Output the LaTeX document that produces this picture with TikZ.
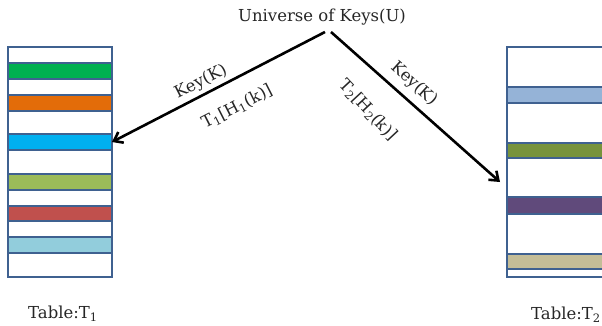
\documentclass[tikz,border=0pt]{standalone}
\usepackage{fontspec}
\setmainfont{DejaVu Serif}
\usetikzlibrary{arrows.meta}

\definecolor{frame}{HTML}{3F6190}
\definecolor{cgreen}{HTML}{00B050}
\definecolor{corange}{HTML}{E36C09}
\definecolor{cblue}{HTML}{00B0F0}
\definecolor{clime}{HTML}{9BBB59}
\definecolor{cred}{HTML}{C0504D}
\definecolor{caqua}{HTML}{92CDDC}
\definecolor{csteel}{HTML}{95B3D7}
\definecolor{colive}{HTML}{77933C}
\definecolor{cplum}{HTML}{604A7B}
\definecolor{ctan}{HTML}{C4BD97}

\tikzset{
  slot/.style={draw=frame, fill=white, line width=2.6pt, inner sep=0pt, outer sep=0pt,
    anchor=north west, minimum width=104pt},
  wslot/.style={slot, minimum width=112pt},
  link/.style={line width=2.6pt, -{Straight Barb[length=8pt,width=12pt,line width=2.6pt]}},
  txt/.style={font=\fontsize{16.5}{19}\selectfont, text=black!85, inner sep=0pt}
}

\begin{document}
\begin{tikzpicture}[x=1pt,y=-1pt]
\useasboundingbox (0,0) rectangle (602,326);
\clip (0,0) rectangle (602,326);

% table T1
\node[slot, minimum height=16pt] (a1) at (8,47) {};
\node[slot, fill=cgreen, minimum height=16pt] (a2) at (8,63) {};
\node[slot, minimum height=16pt] (a3) at (8,79) {};
\node[slot, fill=corange, minimum height=16pt] (a4) at (8,95) {};
\node[slot, minimum height=23pt] (a5) at (8,111) {};
\node[slot, fill=cblue, minimum height=16pt] (a6) at (8,134) {};
\node[slot, minimum height=24pt] (a7) at (8,150) {};
\node[slot, fill=clime, minimum height=16pt] (a8) at (8,174) {};
\node[slot, minimum height=16pt] (a9) at (8,190) {};
\node[slot, fill=cred, minimum height=15pt] (a10) at (8,206) {};
\node[slot, minimum height=16pt] (a11) at (8,221) {};
\node[slot, fill=caqua, minimum height=16pt] (a12) at (8,237) {};
\node[slot, minimum height=24pt] (a13) at (8,253) {};

% table T2
\node[wslot, minimum height=40pt] (b1) at (507,47) {};
\node[wslot, fill=csteel, minimum height=16pt] (b2) at (507,87) {};
\node[wslot, minimum height=40pt] (b3) at (507,103) {};
\node[wslot, fill=colive, minimum height=15pt] (b4) at (507,143) {};
\node[wslot, minimum height=39pt] (b5) at (507,158) {};
\node[wslot, fill=cplum, minimum height=17pt] (b6) at (507,197) {};
\node[wslot, minimum height=40pt] (b7) at (507,214) {};
\node[wslot, fill=ctan, minimum height=15pt] (b8) at (507,254) {};
\node[wslot, minimum height=8pt] (b9) at (507,269) {};

\node[txt] (U) at (322,17) {Universe of Keys(U)};
\coordinate (u1) at (325,32);
\coordinate (u2) at (331,32);
\coordinate (t2in) at (500,182);

\draw[link] (u1) -- (a6.east);
\draw[link] (u2) -- (t2in);

\node[txt, rotate=27] (k1) at (201,82) {Key(K)};
\node[txt, rotate=27] (h1) at (237,107) {T\textsubscript{1}[H\textsubscript{1}(k)]};
\node[txt, rotate=-42] (k2) at (414,84) {Key(K)};
\node[txt, rotate=-47] (h2) at (368,110) {T\textsubscript{2}[H\textsubscript{2}(k)]};

\node[txt] (n1) at (63,314) {Table:T\textsubscript{1}};
\node[txt] (n2) at (566,315) {Table:T\textsubscript{2}};
\end{tikzpicture}
\end{document}
